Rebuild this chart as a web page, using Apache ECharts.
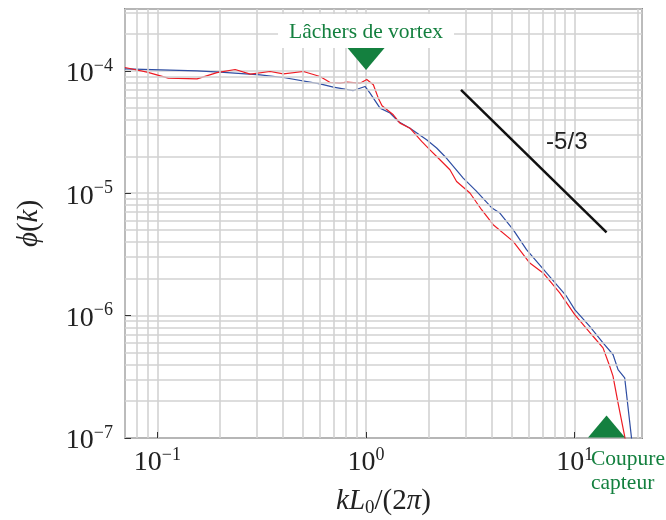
<!DOCTYPE html>
<html><head><meta charset="utf-8">
<script src="https://cdn.jsdelivr.net/npm/echarts@6/dist/echarts.min.js"></script>
<style>html,body{margin:0;padding:0;background:#fff}#c{width:666px;height:520px}</style>
</head><body><div id="c"></div>
<script>
// ---- data ----
const blueK = [0.0699, 0.155, 0.200, 0.311, 0.402, 0.602, 0.697, 0.869, 0.989, 1.045, 1.167, 1.303, 1.427, 1.624, 1.951, 2.179, 2.433, 2.922, 3.386, 3.996, 4.377, 5.068, 5.873, 7.321, 9.127, 10.0, 11.80, 13.66, 15.25, 16.12, 17.35, 18.67, 18.94];
const blueVal = [1.038e-4, 1.0e-4, 9.76e-5, 9.27e-5, 8.82e-5, 7.83e-5, 7.36e-5, 6.90e-5, 7.45e-5, 6.58e-5, 4.96e-5, 4.52e-5, 3.86e-5, 3.40e-5, 2.73e-5, 2.34e-5, 1.93e-5, 1.33e-5, 1.035e-5, 7.62e-6, 6.89e-6, 5.04e-6, 3.46e-6, 2.23e-6, 1.44e-6, 1.12e-6, 8.18e-7, 5.98e-7, 4.81e-7, 3.62e-7, 3.10e-7, 1.03e-7, 8.05e-8];
const redK = [0.0699, 0.0893, 0.1129, 0.155, 0.193, 0.236, 0.2786, 0.347, 0.402, 0.501, 0.602, 0.673, 0.751, 0.809, 0.936, 1.008, 1.084, 1.145, 1.193, 1.351, 1.454, 1.624, 1.847, 2.024, 2.26, 2.523, 2.716, 3.146, 3.578, 4.066, 5.068, 6.091, 7.053, 8.477, 10.0, 12.24, 13.66, 14.71, 15.25, 16.12, 17.35, 17.74];
const redVal = [1.064e-4, 9.76e-5, 8.72e-5, 8.60e-5, 9.68e-5, 1.025e-4, 9.40e-5, 9.87e-5, 9.45e-5, 9.87e-5, 8.98e-5, 8.03e-5, 7.93e-5, 8.09e-5, 7.93e-5, 8.49e-5, 7.69e-5, 5.98e-5, 5.18e-5, 4.37e-5, 3.74e-5, 3.40e-5, 2.65e-5, 2.26e-5, 1.877e-5, 1.556e-5, 1.248e-5, 1.004e-5, 7.33e-6, 5.53e-6, 4.04e-6, 2.69e-6, 2.23e-6, 1.532e-6, 1.019e-6, 6.78e-7, 5.45e-7, 3.86e-7, 3.20e-7, 1.94e-7, 1.03e-7, 8.05e-8];
const slopeK = [2.85, 14.2];
const slopeVal = [6.98e-5, 4.79e-6];
const slopeLabel = '-5/3';
const slopeLabelAt = [9.16, 2.58e-5];
const vortexLabel = 'Lâchers de vortex';
const vortexAt = [1.0, 1.25e-4];
const cutLabel = 'Coupure\ncapteur';
const cutAt = [14.2, 1.24e-7];
const xMin = 0.07, xMax = 21, yMin = 1e-7, yMax = 3.2e-4;
const xMinorGrid = [0.08, 0.09, 0.2, 0.3, 0.4, 0.5, 0.6, 0.7, 0.8, 0.9, 2, 3, 4, 5, 6, 7, 8, 9, 20];
const yMinorGrid = [2e-7,3e-7,4e-7,5e-7,6e-7,7e-7,8e-7,9e-7,2e-6,3e-6,4e-6,5e-6,6e-6,7e-6,8e-6,9e-6,2e-5,3e-5,4e-5,5e-5,6e-5,7e-5,8e-5,9e-5,2e-4,3e-4];

const serif = '"Liberation Serif", "DejaVu Serif", serif';
const green = '#14803f';
const gridCol = '#d2d2d2';

function pow10Label(v) {
  const l = Math.log10(v);
  const e = Math.round(l);
  if (Math.abs(l - e) > 1e-6) return '';
  return '{b|10}{s|' + (e < 0 ? '\u2212' : '') + Math.abs(e) + '}';
}
const labelRich = {
  b: { fontFamily: serif, fontSize: 28, lineHeight: 34, color: '#222' },
  s: { fontFamily: serif, fontSize: 18, lineHeight: 18, color: '#222', verticalAlign: 'top' }
};

const gridLines = xMinorGrid.map(v => [{ coord: [v, yMin] }, { coord: [v, yMax] }])
  .concat(yMinorGrid.map(v => [{ coord: [xMin, v] }, { coord: [xMax, v] }]));

const chart = echarts.init(document.getElementById('c'), null, { renderer: 'canvas' });
chart.setOption({
  animation: false,
  backgroundColor: '#fff',
  grid: { left: 125, right: 24, top: 9, bottom: 82, containLabel: false, outerBoundsMode: 'none', show: true, borderColor: '#333', borderWidth: 1.5, backgroundColor: 'transparent' },
  xAxis: {
    type: 'log', logBase: 10, min: xMin, max: xMax,
    name: '{i|kL}{sub|0}{n|/(2}{i|\u03c0}{n|)}',
    nameLocation: 'middle', nameGap: 46,
    nameTextStyle: {
      rich: {
        i: { fontFamily: serif, fontStyle: 'italic', fontSize: 29, lineHeight: 34, color: '#222' },
        n: { fontFamily: serif, fontSize: 29, lineHeight: 34, color: '#222' },
        sub: { fontFamily: serif, fontSize: 19, lineHeight: 19, color: '#222', verticalAlign: 'bottom' }
      }
    },
    axisLine: { show: false },
    axisTick: { show: true, inside: true, length: 6, lineStyle: { color: '#333' } },
    splitLine: { show: true, lineStyle: { color: gridCol, width: 1.6 } },
    axisLabel: { formatter: pow10Label, rich: labelRich, margin: 8, showMinLabel: false, showMaxLabel: false }
  },
  yAxis: {
    type: 'log', logBase: 10, min: yMin, max: yMax,
    name: '{i|\u03d5}{n|(}{i|k}{n|)}',
    nameLocation: 'middle', nameGap: 79, nameRotate: 90,
    nameTextStyle: {
      rich: {
        i: { fontFamily: serif, fontStyle: 'italic', fontSize: 29, lineHeight: 34, color: '#222' },
        n: { fontFamily: serif, fontSize: 29, lineHeight: 34, color: '#222' }
      }
    },
    axisLine: { show: false },
    axisTick: { show: true, inside: true, length: 6, lineStyle: { color: '#333' } },
    splitLine: { show: true, lineStyle: { color: gridCol, width: 1.6 } },
    axisLabel: { formatter: pow10Label, rich: labelRich, margin: 12, padding: [6, 0, 0, 0], showMaxLabel: false }
  },
  series: [
    {
      type: 'line', data: [], z: 1, silent: true,
      markLine: {
        silent: true, symbol: 'none', animation: false,
        label: { show: false },
        lineStyle: { color: gridCol, width: 1.6, type: 'solid' },
        data: gridLines
      }
    },
    {
      name: 'blue', type: 'line', z: 3, showSymbol: false, symbol: 'none',
      lineStyle: { color: '#2f4ea3', width: 1.2 },
      data: blueK.map((k, i) => [k, blueVal[i]])
    },
    {
      name: 'red', type: 'line', z: 4, showSymbol: false, symbol: 'none',
      lineStyle: { color: '#ee1c24', width: 1.2 },
      data: redK.map((k, i) => [k, redVal[i]])
    },
    {
      name: 'slope', type: 'line', z: 5, showSymbol: false, symbol: 'none',
      lineStyle: { color: '#111', width: 2.5 },
      data: slopeK.map((k, i) => [k, slopeVal[i]]),
      markPoint: {
        silent: true, animation: false,
        data: [
          {
            coord: slopeLabelAt, symbol: 'circle', symbolSize: 0,
            label: { show: true, position: 'inside', formatter: slopeLabel, fontFamily: '"Liberation Sans", sans-serif', fontSize: 24, color: '#222' }
          },
          {
            coord: vortexAt, symbol: 'path://M0,0 L2,0 L1,1 Z', symbolKeepAspect: false, symbolSize: [37, 22],
            itemStyle: { color: green },
            label: { show: true, position: 'top', distance: 0, formatter: vortexLabel, fontFamily: serif, fontSize: 21.5, lineHeight: 26, color: green, backgroundColor: '#fff', padding: [5, 11, 3, 11] }
          },
          {
            coord: cutAt, symbol: 'triangle', symbolSize: [37, 22],
            itemStyle: { color: green },
            label: { show: true, position: [3, 32], align: 'left', verticalAlign: 'top', formatter: cutLabel, fontFamily: serif, fontSize: 21.5, lineHeight: 24, color: green }
          }
        ]
      }
    }
  ]
});
</script>
</body></html>
